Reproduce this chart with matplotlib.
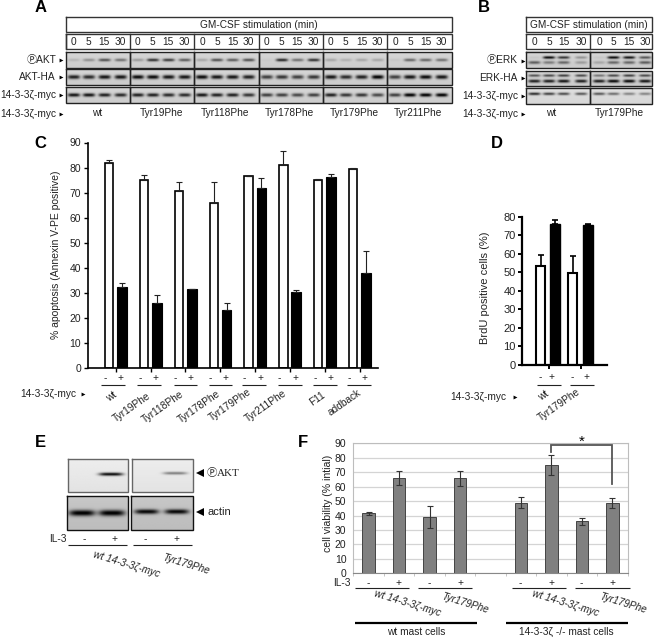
import numpy as np
import matplotlib
matplotlib.use("Agg")
import matplotlib.pyplot as plt

plt.rcParams['font.family'] = ['Liberation Sans', 'Noto Sans CJK SC', 'DejaVu Sans']
W, H = 656, 638
TXT = '#222222'

# ---- data ----
mutants_a = ['wt', 'Tyr19Phe', 'Tyr118Phe', 'Tyr178Phe', 'Tyr179Phe', 'Tyr211Phe']
times = ['0', '5', '15', '30']
pakt = [.12, .30, .60, .45, .25, .75, .70, .55, .20, .60, .55, .60,
        .03, .80, .45, .75, .20, .15, .20, .20, .05, .50, .50, .45]
akt_ha = [.85, .80, .90, .90, .95, .95, .90, .90, .95, .90, .90, .85,
          .70, .75, .70, .75, .90, .80, .85, 1.0, .70, .90, .95, .90]
myc_a = [.90, .90, .85, .80, .85, .85, .80, .80, .90, .85, .85, .75,
         .70, .70, .65, .70, .85, .75, .75, .65, .70, 1.0, 1.0, 1.0]
perk_top = [.05, .95, .75, .30, .05, .95, .90, .60]
perk_low = [.55, .40, .50, .25, .20, .50, .50, .55]
erk_top = [.60, .65, .70, .65, .45, .65, .70, .65]
erk_low = [.85, .85, .90, .85, .85, .95, .95, .90]
myc_b = [.80, .70, .65, .60, .60, .50, .40, .40]

labels_c = ['wt', 'Tyr19Phe', 'Tyr118Phe', 'Tyr178Phe', 'Tyr179Phe', 'Tyr211Phe', 'F11', 'addback']
c_minus = [82, 75, 70.5, 66, 76.5, 81, 75, 79.5]
c_minus_err = [1.2, 2, 3.8, 8.3, 0, 5.5, 0.6, 0.4]
c_plus = [32.3, 26, 31.7, 23.3, 72, 30.3, 76.3, 38]
c_plus_err = [1.7, 3, 0, 2.7, 4, 0.7, 1, 8.5]

labels_d = ['wt', 'Tyr179Phe']
d_minus = [53.5, 49.5]
d_minus_err = [6, 9.5]
d_plus = [76, 75.5]
d_plus_err = [2, 0.5]

f_values = [41.5, 66, 39, 65.7, np.nan, 49, 75, 36, 48.5]
f_err = [1.2, 5, 7.5, 5, np.nan, 3.5, 7, 2.3, 3.3]
f_signs = ['-', '+', '-', '+', '', '-', '+', '-', '+']
e_pakt = [0, .95, 0, .45]
e_actin = [1.0, 1.0, .95, .95]


fig = plt.figure(figsize=(W / 100, H / 100), dpi=100)


def make_axes(l, t, r, b):
    return fig.add_axes([l / W, 1 - b / H, (r - l) / W, (b - t) / H])


ov = fig.add_axes([0, 0, 1, 1], zorder=5)
ov.patch.set_alpha(0)
ov.axis('off')


def label(x, y, s, size=7.3, ha='center', rot=0, **kw):
    ov.text(x, y, s, fontsize=size, ha=ha, va='center', rotation=rot,
            rotation_mode='anchor', color=kw.pop('color', TXT), **kw)


def box(x0, y0, x1, y1, color='#333333', lw=1.0):
    ov.plot([x0, x1, x1, x0, x0], [y0, y0, y1, y1, y0], color=color, lw=lw, solid_joinstyle='miter')


def hline(x0, x1, y, lw=0.8, color='#222222'):
    ov.plot([x0, x1], [y, y], color=color, lw=lw, solid_capstyle='butt')


def arrow(x, y, marker='>', ms=2.8):
    ov.plot([x], [y], marker=marker, ms=ms, color='k', mew=0)


def blot(x0, y0, x1, y1, centers, bands, bg=.84, bw=6.0, edge='#333333'):
    # bands: list of (intensities, y position as fraction of height, thickness in px)
    nx, ny = int((x1 - x0) * 3), int((y1 - y0) * 3)
    xs = np.linspace(x0, x1, nx)
    ys = np.linspace(y0, y1, ny)
    xx, yy = np.meshgrid(xs, ys)
    img = np.full(xx.shape, float(bg))
    img -= 0.04 * ((yy - y0) / (y1 - y0))
    for vals, frac, thick in bands:
        yc = y0 + frac * (y1 - y0)
        for c, v in zip(centers, vals):
            prof = np.exp(-((xx - c) / bw) ** 4) * np.exp(-((yy - yc) / thick) ** 2)
            img -= v * prof * bg
    ov.imshow(np.clip(img, 0, 1), cmap='gray', vmin=0, vmax=1, extent=(x0, x1, y1, y0),
              aspect='auto', interpolation='bilinear', zorder=1)
    box(x0, y0, x1, y1, color=edge, lw=1.0)


# ---- panel A ----
label(41, 7, 'A', size=12, weight='bold', color='k')
a_left = [65.7 + 64.35 * i for i in range(6)]
a_off = [7.7, 22.7, 38.3, 54.3]
box(65.7, 16.7, 451.7, 31.7)
label(258.7, 25, 'GM-CSF stimulation (min)')
box(65.7, 34, 451.7, 49)
rows_a = [(51.7, 67.7, pakt, .5, 1.5), (69.3, 85, akt_ha, .5, 2.0), (87.3, 103.3, myc_a, .5, 1.8)]
for y0, y1, vals, frac, thick in rows_a:
    for i, left in enumerate(a_left):
        blot(left, y0, left + 64.35, y1, [left + o for o in a_off],
             [(vals[4 * i:4 * i + 4], frac, thick)], edge='#222222')
for i, left in enumerate(a_left):
    ov.plot([left, left], [34, 49], color='#333333', lw=1.0)
    for o, t in zip(a_off, times):
        label(left + o, 42, t)
    label(left + 31, 113.5, mutants_a[i])
row_txt = ['\u24c5AKT', 'AKT-HA', '14-3-3\u03b6-myc', '14-3-3\u03b6-myc']
for y, s in zip([60, 77, 95, 113.5], row_txt):
    label(56, y, s, ha='right')
    arrow(61, y)

# ---- panel B ----
label(484, 7, 'B', size=12, weight='bold', color='k')
box(526, 16.7, 651.7, 31.7)
label(589, 25, 'GM-CSF stimulation (min)')
box(526, 34, 651.7, 49)
ov.plot([590, 590], [34, 49], color='#333333', lw=1.0)
b_pos = [534.3, 549, 563.7, 581.3, 599, 613.3, 629, 645]
for x, t in zip(b_pos, times * 2):
    label(x, 42, t)
for sec, (x0, x1) in enumerate([(526, 590), (590, 651.7)]):
    c = b_pos[4 * sec:4 * sec + 4]
    blot(x0, 51.7, x1, 68, c, [(perk_top[4 * sec:4 * sec + 4], .38, 1.3),
                               (perk_low[4 * sec:4 * sec + 4], .68, 1.5)], edge='#222222')
    blot(x0, 70.7, x1, 85.7, c, [(erk_top[4 * sec:4 * sec + 4], .30, 1.3),
                                 (erk_low[4 * sec:4 * sec + 4], .68, 1.6)], edge='#222222')
    blot(x0, 87.7, x1, 104, c, [(myc_b[4 * sec:4 * sec + 4], .40, 1.3)], bg=.88, edge='#222222')
row_txt = ['\u24c5ERK', 'ERK-HA', '14-3-3\u03b6-myc', '14-3-3\u03b6-myc']
for y, s in zip([60.5, 78, 95.5, 113.5], row_txt):
    label(518, y, s, ha='right')
    arrow(522.5, y)
label(551, 113.5, 'wt')
label(619, 113.5, 'Tyr179Phe')

# ---- panel C ----
label(40, 143, 'C', size=12, weight='bold', color='k')
step = 34.87
ax = make_axes(88, 142.5, 378, 368)
x = np.arange(len(labels_c))
ax.bar(x - .19, c_minus, width=.24, color='white', edgecolor='k', linewidth=1.2,
       yerr=[np.zeros(8), c_minus_err], error_kw=dict(ecolor='#222222', elinewidth=.8, capsize=2, capthick=.8))
ax.bar(x + .18, c_plus, width=.28, color='k', edgecolor='k', linewidth=.8,
       yerr=[np.zeros(8), c_plus_err], error_kw=dict(ecolor='#222222', elinewidth=.8, capsize=2, capthick=.8))
ax.set_xlim((88 - 115.7) / step, (378 - 115.7) / step)
ax.set_ylim(0, 90)
ax.set_yticks(range(0, 91, 10))
ax.set_xticks(x)
ax.set_xticklabels([])
ax.tick_params(axis='both', length=3, width=1, labelsize=7.5, pad=2, labelcolor=TXT)
for s in ['top', 'right']:
    ax.spines[s].set_visible(False)
for s in ['left', 'bottom']:
    ax.spines[s].set_linewidth(1.2)
label(56, 255, '% apoptosis (Annexin V-PE positive)', size=7.5, rot=90)
c_minus_x = [105, 140, 175.7, 210.7, 244, 279.3, 315, 349]
c_plus_x = [120.7, 155, 190.3, 225.7, 260.3, 295.3, 330.7, 364.7]
c_under = [(101.3, 124.7), (137.3, 161.3), (174, 197.3), (209, 232.3),
           (242, 265.7), (277.7, 301.7), (313.3, 337.3), (347.3, 370.7)]
for xm, xp, (u0, u1) in zip(c_minus_x, c_plus_x, c_under):
    label(xm, 378, '-')
    label(xp, 378, '+')
    hline(u0, u1, 385.3)
c_lab_xy = [(111, 397), (131.7, 407), (162.7, 406.7), (198.7, 406.7),
            (230, 405), (266, 405.7), (317.7, 398.3), (344, 403)]
for (lx, ly), s in zip(c_lab_xy, labels_c):
    label(lx, ly, s, rot=35)
label(76, 394.3, '14-3-3\u03b6-myc', ha='right')
arrow(83, 394.3)

# ---- panel D ----
label(497, 143, 'D', size=12, weight='bold', color='k')
ax = make_axes(522, 216.7, 606.7, 365)
x = np.arange(len(labels_d))
ax.bar(x - .26, d_minus, width=.28, color='white', edgecolor='k', linewidth=1.5,
       yerr=[np.zeros(2), d_minus_err], error_kw=dict(ecolor='k', elinewidth=1.2, capsize=2, capthick=1.2))
ax.bar(x + .20, d_plus, width=.31, color='k', edgecolor='k', linewidth=1.0,
       yerr=[np.zeros(2), d_plus_err], error_kw=dict(ecolor='k', elinewidth=1.2, capsize=2, capthick=1.2))
ax.set_xlim((522 - 549) / 32.3, (606.7 - 549) / 32.3)
ax.set_ylim(0, 80)
ax.set_yticks(range(0, 81, 10))
ax.set_xticks(x)
ax.set_xticklabels([])
ax.tick_params(axis='both', length=3, width=1.4, labelsize=8, pad=1.5, labelcolor=TXT)
for s in ['top', 'right']:
    ax.spines[s].set_visible(False)
for s in ['left', 'bottom']:
    ax.spines[s].set_linewidth(1.6)
label(485, 287.5, 'BrdU positive cells (%)', size=8, rot=90)
for xm, xp, (u0, u1) in zip([540.7, 572.7], [551.7, 586], [(536.7, 560.7), (570, 594)]):
    label(xm, 376.7, '-')
    label(xp, 376.7, '+')
    hline(u0, u1, 384.7)
label(543.3, 396, 'wt', rot=35)
label(559, 405, 'Tyr179Phe', rot=35)
label(506.7, 396.7, '14-3-3\u03b6-myc', ha='right')
arrow(515, 396.7)

# ---- panel E ----
label(40.6, 442.7, 'E', size=12, weight='bold', color='k')
blot(67.7, 459, 128.3, 491.7, [84.3, 110.5], [(e_pakt[:2], .46, 1.6)], bg=.93, bw=12, edge='#666666')
blot(132.3, 459, 193.3, 491.7, [145.7, 175.5], [(e_pakt[2:], .43, 1.4)], bg=.93, bw=12, edge='#666666')
blot(67, 496.3, 128, 530, [82, 112], [(e_actin[:2], .50, 3.0)], bg=.78, bw=13, edge='#111111')
blot(131.3, 496.3, 192.7, 530, [146.7, 176.7], [(e_actin[2:], .46, 2.4)], bg=.78, bw=12, edge='#111111')
arrow(200, 473, marker='<', ms=6)
arrow(200, 511.7, marker='<', ms=6)
label(207, 473, '\u24c5', size=7.5, ha='left')
label(217, 473, 'AKT', size=8, ha='left', family='Liberation Serif')
label(207, 511.7, 'actin', size=8, ha='left')
label(66.7, 539, 'IL-3', ha='right')
for xs_, s in zip([84.3, 114.3, 145.7, 176], f_signs[:4]):
    label(xs_, 539, s)
hline(68.3, 127.3, 545.3)
hline(133.3, 192.3, 545.3)
label(126.7, 564, 'wt 14-3-3\u03b6-myc', style='italic', rot=-17)
label(185.7, 564.3, 'Tyr179Phe', style='italic', rot=-17)

# ---- panel F ----
label(303, 442.7, 'F', size=12, weight='bold', color='k')
ax = make_axes(353.3, 443.3, 627.7, 573.3)
x = np.arange(len(f_values))
ax.grid(axis='y', color='#d4d4d4', lw=.9)
ax.set_axisbelow(True)
ax.bar(x, f_values, width=.41, color='#808080', edgecolor='#444444', linewidth=.7,
       yerr=f_err, error_kw=dict(ecolor='#333333', elinewidth=.8, capsize=2, capthick=.8))
ax.set_xlim(-.5, 8.5)
ax.set_ylim(0, 90)
ax.set_yticks(range(0, 91, 10))
ax.set_xticks(np.arange(-.5, 9))
ax.set_xticklabels([])
ax.tick_params(axis='x', length=2, width=.6, color='#bbbbbb')
ax.tick_params(axis='y', length=0, labelsize=7.5, pad=5, labelcolor=TXT)
for s in ax.spines.values():
    s.set_color('#bdbdbd')
    s.set_linewidth(.8)
ax.spines['bottom'].set_color('#888888')
label(328.3, 503, 'cell viability (% intial)', size=7.6, rot=90)

ov.plot([551.3, 551.3, 612, 612], [451.7, 445.3, 445.3, 483.5], color='#555555', lw=1.3,
        solid_joinstyle='miter')
label(581.7, 441.5, '*', size=11, color='k')
label(351, 583.3, 'IL-3', ha='right')
f_sign_x = [368.3, 398.3, 429.3, 460, np.nan, 520.7, 551.3, 581.7, 612]
for xs_, s in zip(f_sign_x, f_signs):
    if s:
        label(xs_, 583.3, s)
for u0, u1 in [(355, 409.3), (417.7, 472.3), (511.7, 566), (575, 629.7)]:
    hline(u0, u1, 588.3)
for lx, s in zip([407.3, 465, 565.7, 623.3], ['wt 14-3-3\u03b6-myc', 'Tyr179Phe'] * 2):
    label(lx, 603, s, style='italic', rot=-17)
hline(355.3, 476.7, 623.3, lw=1.6, color='k')
hline(506, 627.7, 623.3, lw=1.6, color='k')
label(416, 632.3, 'wt mast cells')
label(566, 632.3, '14-3-3\u03b6 -/- mast cells')

ov.set_xlim(0, W)
ov.set_ylim(H, 0)
fig.savefig('out.png', dpi=100, facecolor='white')
